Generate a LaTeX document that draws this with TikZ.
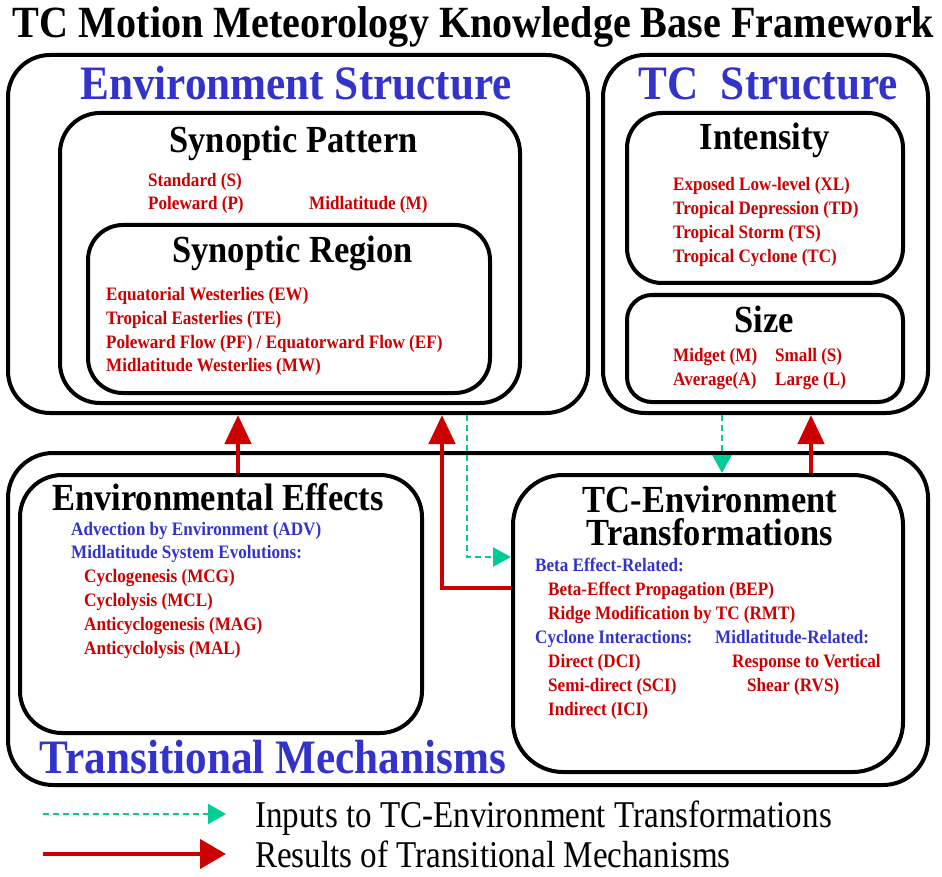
\documentclass[tikz,border=0pt]{standalone}
\usepackage{fontspec}
\setmainfont{LiberationSerif}[Extension=.ttf, UprightFont=*-Regular, BoldFont=*-Bold,
  ItalicFont=*-Italic, BoldItalicFont=*-BoldItalic, FakeStretch=0.9]
\newfontfamily\legendfont{LiberationSerif}[Extension=.ttf, UprightFont=*-Regular,
  BoldFont=*-Bold, FakeStretch=0.875]
\usetikzlibrary{arrows.meta}

\definecolor{tcblue}{RGB}{51,51,204}
\definecolor{tcred}{RGB}{204,0,0}
\definecolor{tcgreen}{RGB}{0,204,150}

\newcommand{\fsz}[1]{\fontsize{#1}{#1}\selectfont}

\tikzset{
  frame/.style={draw, line width=4pt, rounded corners=#1, inner sep=0pt},
  frame/.default=40pt,
  heading/.style={anchor=base, inner sep=0pt, font=\fsz{48}\bfseries, text=tcblue},
  boxtitle/.style={anchor=base, inner sep=0pt, font=\fsz{38.3}\bfseries},
  item/.style={anchor=base west, inner sep=0pt, font=\fsz{19}\bfseries},
  reditem/.style={item, text=tcred},
  blueitem/.style={item, text=tcblue},
  result/.style={draw=tcred, line width=4.5pt, -{Triangle[width=26pt,length=29pt]}},
  inputflow/.style={draw=tcgreen, line width=2.5pt, dash pattern=on 6pt off 4pt,
                    -{Triangle[width=19pt,length=18pt]}},
}

\begin{document}
\begin{tikzpicture}[x=1pt,y=-1pt]
\useasboundingbox (0,0) rectangle (942,877);

% title
\node[anchor=base, inner sep=0pt, font=\fsz{44.6}\bfseries] (title) at (473.5,38)
  {TC Motion Meteorology Knowledge Base Framework};

% ---------- Environment Structure ----------
\node[frame=42pt, minimum width=580pt, minimum height=358pt] (envS) at (298,234) {};
\node[heading] (envShead) at (296,100) {Environment Structure};

\node[frame=40pt, minimum width=460pt, minimum height=290pt] (synP) at (290,258) {};
\node[boxtitle] (synPhead) at (293.5,153) {Synoptic Pattern};
\node[reditem] (pS) at (148,187) {Standard (S)};
\node[reditem] (pP) at (148,210) {Poleward (P)};
\node[reditem] (pM) at (309,210) {Midlatitude (M)};

\node[frame=35pt, minimum width=402pt, minimum height=168pt] (synR) at (289,309) {};
\node[boxtitle] (synRhead) at (292.5,262) {Synoptic Region};
\node[reditem] (rEW) at (106,301) {Equatorial Westerlies (EW)};
\node[reditem] (rTE) at (106,324.5) {Tropical Easterlies (TE)};
\node[reditem] (rPF) at (106,348) {Poleward Flow (PF) / Equatorward Flow (EF)};
\node[reditem] (rMW) at (106,371.5) {Midlatitude Westerlies (MW)};

% ---------- TC Structure ----------
\node[frame=42pt, minimum width=325pt, minimum height=358pt] (tcS) at (765.5,234) {};
\node[heading] (tcShead) at (768,100) {TC\hspace{0.25em} Structure};

\node[frame=35pt, minimum width=276pt, minimum height=170pt] (inten) at (765,198) {};
\node[boxtitle] (intenhead) at (765,150) {Intensity};
\node[reditem] (iXL) at (673,191) {Exposed Low-level (XL)};
\node[reditem] (iTD) at (673,215) {Tropical Depression (TD)};
\node[reditem] (iTS) at (673,239) {Tropical Storm (TS)};
\node[reditem] (iTC) at (673,263) {Tropical Cyclone (TC)};

\node[frame=25pt, minimum width=276pt, minimum height=107pt] (size) at (765,348.5) {};
\node[boxtitle] (sizehead) at (764,332) {Size};
\node[reditem] (sM) at (673,361) {Midget (M)};
\node[reditem] (sS) at (775,361) {Small (S)};
\node[reditem] (sA) at (673,385) {Average(A)};
\node[reditem] (sL) at (775,385) {Large (L)};

% ---------- Transitional Mechanisms ----------
\node[frame=45pt, minimum width=920pt, minimum height=332pt] (trans) at (468,619) {};
\node[heading] (transhead) at (273,773) {Transitional Mechanisms};

\node[frame=42pt, minimum width=402pt, minimum height=258pt] (envE) at (221,604) {};
\node[boxtitle] (envEhead) at (218,510) {Environmental Effects};
\node[blueitem] (eADV) at (71,535) {Advection by Environment (ADV)};
\node[blueitem] (eMSE) at (71,558.5) {Midlatitude System Evolutions:};
\node[reditem] (eMCG) at (84,582.5) {Cyclogenesis (MCG)};
\node[reditem] (eMCL) at (84,606.5) {Cyclolysis (MCL)};
\node[reditem] (eMAG) at (84,630.5) {Anticyclogenesis (MAG)};
\node[reditem] (eMAL) at (84,654.5) {Anticyclolysis (MAL)};

\node[frame=50pt, minimum width=390pt, minimum height=297pt] (tcE) at (708,623.5) {};
\node[boxtitle, anchor=north, align=center, font=\fontsize{38.3}{33}\selectfont\bfseries]
  (tcEhead) at (710,486) {TC-Environment\\Transformations};
\node[blueitem] (tBeta) at (535,571) {Beta Effect-Related:};
\node[reditem] (tBEP) at (548,595) {Beta-Effect Propagation (BEP)};
\node[reditem] (tRMT) at (548,619) {Ridge Modification by TC (RMT)};
\node[blueitem] (tCyc) at (535,643) {Cyclone Interactions:};
\node[blueitem] (tMid) at (715,643) {Midlatitude-Related:};
\node[reditem] (tDCI) at (548,667) {Direct (DCI)};
\node[reditem] (tSCI) at (548,691) {Semi-direct (SCI)};
\node[reditem] (tICI) at (548,715) {Indirect (ICI)};
\node[reditem] (tRVS1) at (732,667) {Response to Vertical};
\node[reditem] (tRVS2) at (747,691) {Shear (RVS)};

% ---------- connectors ----------
\draw[result] (238,0 |- envE.north) -- (238,0 |- envS.south);
\draw[result, line join=miter] (tcE.west |- 0,588) -| (442,0 |- envS.south);
\draw[inputflow] (467,0 |- envS.south) |- (tcE.west |- 0,557);
\draw[inputflow] (722,0 |- tcS.south) -- (722,0 |- tcE.north);
\draw[result] (811,0 |- tcE.north) -- (811,0 |- tcS.south);

% ---------- legend ----------
\coordinate (lgInA) at (43,814);
\coordinate (lgInB) at (226,814);
\coordinate (lgResA) at (43,854);
\coordinate (lgResB) at (226,854);
\draw[inputflow, -{Triangle[width=20pt,length=18pt]}] (lgInA) -- (lgInB);
\draw[result, line width=4.3pt, -{Triangle[width=29pt,length=26pt]}] (lgResA) -- (lgResB);
\node[anchor=base west, inner sep=0pt, font=\legendfont\fsz{37.8}] (lgIn) at (255,827)
  {Inputs to TC-Environment Transformations};
\node[anchor=base west, inner sep=0pt, font=\legendfont\fsz{37.8}] (lgRes) at (255,867)
  {Results of Transitional Mechanisms};
\end{tikzpicture}
\end{document}
